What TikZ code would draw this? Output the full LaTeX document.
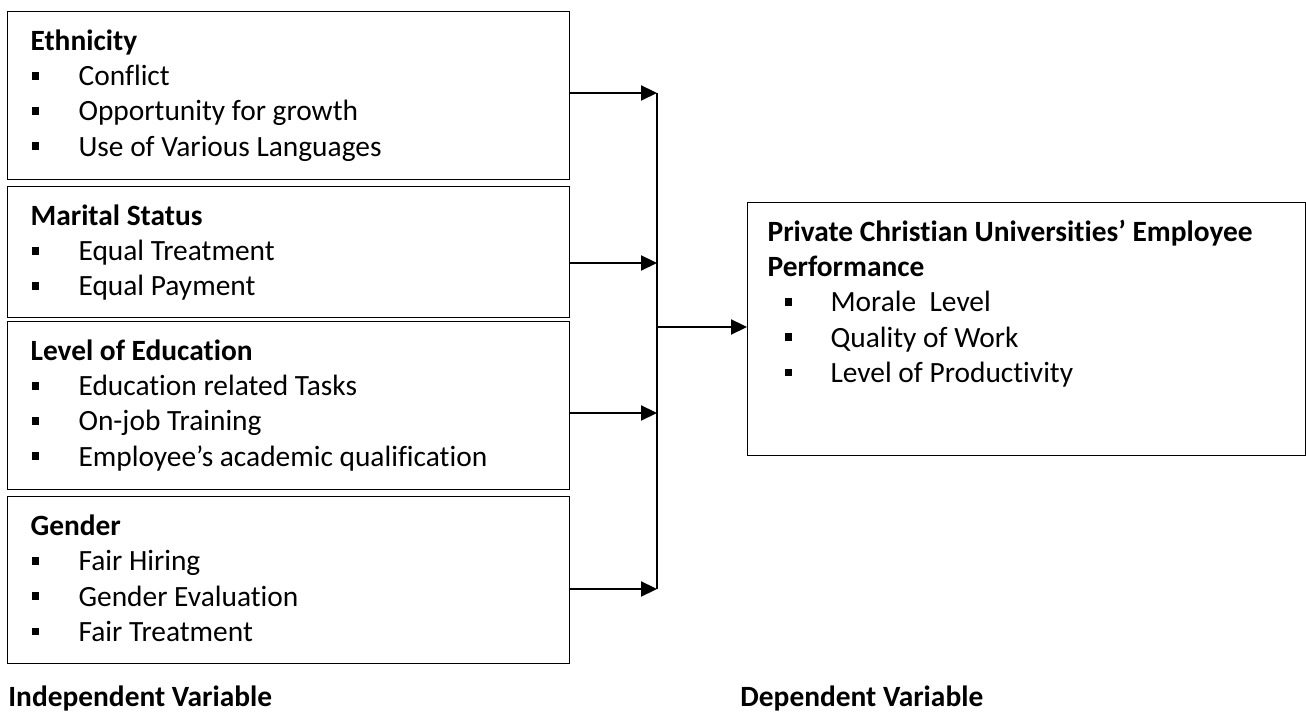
\documentclass[tikz,border=0pt]{standalone}
\usepackage{fontspec}
\setmainfont{Carlito}[Ligatures=NoCommon]
\usetikzlibrary{arrows.meta}

\newcommand{\vhead}[2][11.5pt]{\hspace*{#1}\rule{0pt}{19.5pt}\textbf{#2}\par}
\newcommand{\vbul}{\raisebox{3.1pt}{\rule{3.75pt}{3.75pt}}}
\newcommand{\vitem}[1]{\makebox[35.5pt][l]{\hspace*{12pt}\vbul}#1\par}
\newcommand{\ditem}[1]{\makebox[41.5pt][l]{\hspace*{18.5pt}\vbul}#1\par}

\begin{document}
\begin{tikzpicture}[x=0.5pt,y=-0.5pt,
    vbox/.style={draw, line width=0.6pt, inner sep=0pt, anchor=north west,
        font=\fontsize{14.7pt}{17.6pt}\selectfont},
    vlabel/.style={anchor=base west, inner sep=0pt, font=\fontsize{14.7pt}{17.6pt}\selectfont\bfseries},
    arr/.style={-{Triangle[length=8pt,width=7.5pt]}, line width=1.1pt}]
    \useasboundingbox (0,0) rectangle (1306,715);

    % 自变量
    \node[vbox] (eth) at (7,11) {\parbox[c][84pt][t]{281pt}{%
        \vhead{Ethnicity}
        \vitem{Conflict}
        \vitem{Opportunity for growth}
        \vitem{Use of Various Languages}}};
    \node[vbox] (mar) at (7,186) {\parbox[c][65.5pt][t]{281pt}{%
        \vhead{Marital Status}
        \vitem{Equal Treatment}
        \vitem{Equal Payment}}};
    \node[vbox] (edu) at (7,321) {\parbox[c][84pt][t]{281pt}{%
        \vhead{Level of Education}
        \vitem{Education related Tasks}
        \vitem{On-job Training}
        \vitem{Employee’s academic qualification}}};
    \node[vbox] (gen) at (7,496) {\parbox[c][83.5pt][t]{281pt}{%
        \vhead{Gender}
        \vitem{Fair Hiring}
        \vitem{Gender Evaluation}
        \vitem{Fair Treatment}}};

    % 因变量
    \node[vbox] (perf) at (747,202) {\parbox[c][126.5pt][t]{279pt}{%
        \vhead[10pt]{Private Christian Universities’ Employee}
        \hspace*{10pt}\textbf{Performance}\par
        \ditem{Morale\ \ Level}
        \ditem{Quality of Work}
        \ditem{Level of Productivity}}};

    \node[vlabel] (ind) at (8,706) {Independent Variable};
    \node[vlabel] (dep) at (740,706) {Dependent Variable};

    % 箭头
    \coordinate (j1) at (657,93);
    \coordinate (j2) at (657,263);
    \coordinate (j3) at (657,413);
    \coordinate (j4) at (657,589);
    \coordinate (jm) at (657,327);
    \draw[arr] (eth.east |- j1) -- (j1);
    \draw[arr] (mar.east |- j2) -- (j2);
    \draw[arr] (edu.east |- j3) -- (j3);
    \draw[arr] (gen.east |- j4) -- (j4);
    \draw[line width=0.7pt] (j1) -- (j4);
    \draw[arr] (jm) -- (perf.west |- jm);
\end{tikzpicture}
\end{document}
